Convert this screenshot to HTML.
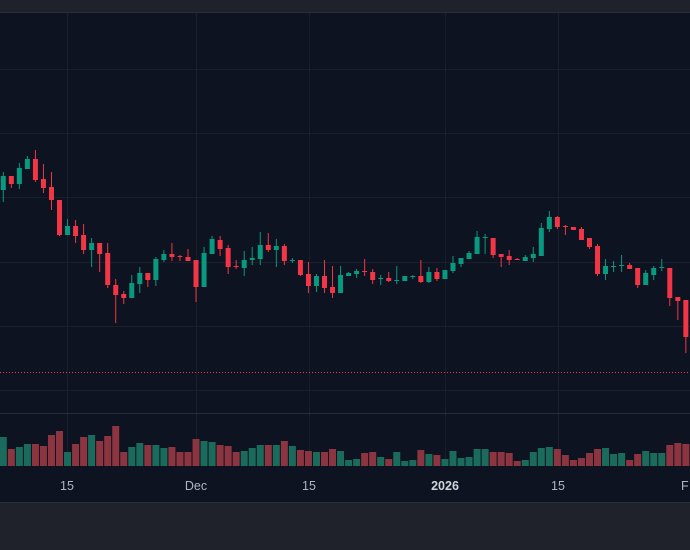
<!DOCTYPE html>
<html><head><meta charset="utf-8"><style>
html,body{margin:0;padding:0;background:#0d1320;width:690px;height:550px;overflow:hidden}
svg{display:block}
text{font-family:"Liberation Sans",sans-serif;font-size:12.5px;fill:#b2b5be}
</style></head><body>
<svg id="s" width="690" height="550" xmlns="http://www.w3.org/2000/svg">
<rect x="0" y="0" width="690" height="550" fill="#0d1320"/>
<rect x="0" y="0" width="690" height="12" fill="#1f222b"/>
<rect x="0" y="12" width="690" height="1" fill="#2a2e39"/>
<g stroke="#1a1f2c" stroke-width="1">
<line x1="0" y1="69.5" x2="690" y2="69.5"/><line x1="0" y1="133.5" x2="690" y2="133.5"/>
<line x1="0" y1="197.5" x2="690" y2="197.5"/><line x1="0" y1="262.5" x2="690" y2="262.5"/>
<line x1="0" y1="326.5" x2="690" y2="326.5"/><line x1="0" y1="390.5" x2="690" y2="390.5"/>
<line x1="67.5" y1="13" x2="67.5" y2="466"/><line x1="196.5" y1="13" x2="196.5" y2="466"/>
<line x1="309.5" y1="13" x2="309.5" y2="466"/><line x1="445.5" y1="13" x2="445.5" y2="466"/>
<line x1="558.5" y1="13" x2="558.5" y2="466"/>
</g>
<line x1="0" y1="413.5" x2="690" y2="413.5" stroke="#2a2e39"/>
<line x1="0" y1="372.5" x2="690" y2="372.5" stroke="#f23645" stroke-width="1" stroke-dasharray="1,2"/>
<g id="vol"></g><g id="cd"></g>
<rect x="0" y="502" width="690" height="48" fill="#1f222b"/>
<rect x="0" y="502" width="690" height="1" fill="#2a2e39"/>
<text x="67" y="490" text-anchor="middle">15</text>
<text x="196" y="490" text-anchor="middle">Dec</text>
<text x="309" y="490" text-anchor="middle">15</text>
<text x="445" y="490" text-anchor="middle" style="font-weight:bold;fill:#d1d4dc">2026</text>
<text x="558" y="490" text-anchor="middle">15</text>
<text x="681" y="490">F</text>
</svg>
<script>
// [open, close, high, low] in pixel y
var C=[[190,176,172,202],[176,184,176,188],[184,168,163,189],[169,159,156,169],[159,180,150,182],[179,188,164,193],[187,200,172,210],[200,235,200,236],[235,226,219,235],[226,236,220,243],[235,250,224,254],[250,243,238,267],[243,254,243,272],[253,285,243,288],[285,295,279,323],[294,298,291,304],[298,283,275,298],[284,273,267,293],[273,280,273,287],[280,259,257,286],[260,254,250,262],[254,257,243,261],[256,257,255,261],[257,261,249,261],[260,287,260,302],[287,253,247,287],[254,239,236,254],[240,249,236,256],[248,267,245,274],[266,267,260,269],[268,260,251,276],[260,258,247,265],[259,245,232,265],[245,250,233,252],[250,246,239,267],[246,261,244,265],[261,260,258,263],[260,275,260,276],[274,286,262,293],[286,276,274,292],[276,288,260,293],[287,293,266,298],[293,275,266,293],[276,273,272,276],[274,271,269,278],[271,272,259,276],[272,280,269,284],[279,278,275,285],[278,281,272,282],[281,280,266,284],[281,276,276,281],[277,276,275,279],[276,282,260,283],[282,272,267,283],[272,279,268,281],[279,270,270,279],[271,263,256,273],[264,258,258,267],[259,253,251,259],[254,237,231,254],[238,237,234,254],[238,255,238,258],[254,257,254,267],[256,260,250,265],[259,260,258,260],[261,257,255,261],[258,254,247,262],[256,228,223,256],[229,217,211,232],[217,227,216,229],[226,227,225,235],[227,230,227,230],[229,240,227,240],[238,247,238,249],[246,274,244,276],[274,266,259,280],[267,266,261,272],[266,265,255,272],[265,269,263,269],[268,285,268,288],[285,273,270,285],[275,268,266,280],[268,267,259,271],[268,298,268,306],[297,301,297,320],[300,337,300,353]];
var V=[437,449,447,444,444,446,435,431,452,444,437,435,441,436,426,452,447,443,445,445,448,447,452,452,439,441,442,445,446,452,451,448,445,445,445,441,446,450,451,452,452,449,451,460,459,453,452,457,459,452,461,460,450,454,455,459,451,458,457,449,449,452,452,453,461,460,452,448,447,449,455,460,458,453,449,448,454,453,460,454,451,453,453,445,443,444];
var ns="http://www.w3.org/2000/svg",cd=document.getElementById("cd"),vg=document.getElementById("vol");
function r(g,x,y,w,h,f){var e=document.createElementNS(ns,"rect");e.setAttribute("x",x);e.setAttribute("y",y);e.setAttribute("width",w);e.setAttribute("height",Math.max(h,1));e.setAttribute("fill",f);g.appendChild(e);}
for(var i=0;i<C.length;i++){var c=C[i],x=3.3+8.03*i,up=c[1]<=c[0];
var col=up?"#089981":"#f23645";
var t=Math.min(c[0],c[1]),b=Math.max(c[0],c[1]);
r(cd,x-0.5,c[2],1,c[3]-c[2],col);
r(cd,x-2.5,t,5,b-t,col);
r(vg,x-3.5,V[i],7,466-V[i],up?"#1a6b5c":"#8c3440");}
</script>
</body></html>
